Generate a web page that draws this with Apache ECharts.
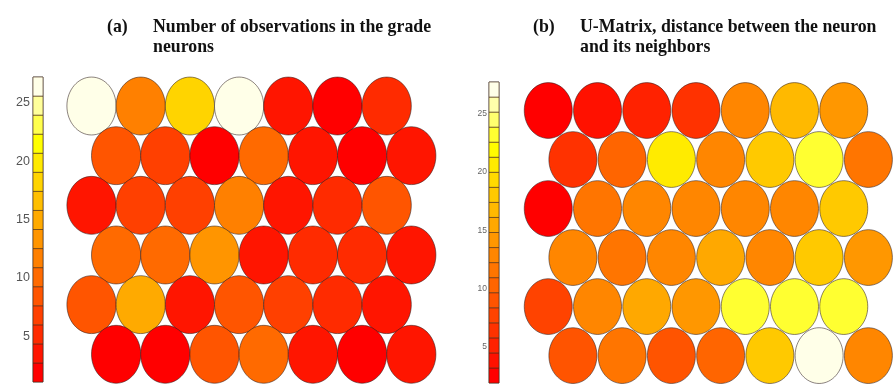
<!DOCTYPE html>
<html>
<head>
<meta charset="utf-8">
<script src="https://cdn.jsdelivr.net/npm/echarts@6/dist/echarts.min.js"></script>
<style>
  html, body { margin: 0; padding: 0; background: #fff; }
  #chart { width: 893px; height: 385px; }
</style>
</head>
<body>
<div id="chart"></div>
<script>
// Number of observations mapped to each neuron of the 7 x 6 hexagonal map (top row first)
const hitCounts = [
  [27, 12, 18, 26, 4, 2, 5],
  [8, 7, 2, 10, 4, 2, 4],
  [4, 7, 7, 12, 3, 5, 8],
  [10, 10, 14, 3, 5, 5, 3],
  [8, 15, 4, 9, 7, 5, 4],
  [2, 2, 8, 10, 4, 2, 4]
];

// U-matrix: mean distance between each neuron and its neighbours (top row first)
const uMatrix = [
  [2.5, 3.8, 5.1, 6.4, 12.3, 16.9, 14.2],
  [6.4, 10.3, 20.6, 12.9, 18.0, 23.2, 11.0],
  [2.5, 11.6, 12.3, 12.3, 12.9, 12.9, 18.0],
  [12.3, 11.0, 12.3, 15.5, 12.9, 18.0, 13.6],
  [7.7, 12.3, 15.5, 14.2, 23.4, 23.0, 23.2],
  [9.0, 11.6, 9.0, 10.3, 18.0, 27.1, 12.3]
];

// Colour bar scales and their tick labels
const hitRange = [1.1, 27.2];
const hitLevelCount = 16;
const uRange = [1.9, 27.7];
const uLevelCount = 20;
const colorbarTicks = [5, 10, 15, 20, 25];

const HEX_DY = Math.sqrt(3) / 2;

// red -> yellow -> pale cream colour map, sampled into n flat levels
function levelColor(i, n) {
  const f = n > 1 ? i / (n - 1) : 0;
  if (f <= 0.8) {
    const g = Math.round(f / 0.8 * 255);
    return 'rgb(255,' + g + ',0)';
  }
  const b = Math.round((f - 0.8) / 0.2 * 232);
  return 'rgb(255,255,' + b + ')';
}

function buildPieces(range, n) {
  const w = (range[1] - range[0]) / n;
  const pieces = [];
  for (let i = 0; i < n; i++) {
    const p = { gte: range[0] + i * w, color: levelColor(i, n) };
    if (i < n - 1) p.lt = range[0] + (i + 1) * w; else p.lte = range[1] + 100;
    if (i === 0) p.gte = range[0] - 100;
    pieces.push(p);
  }
  return pieces;
}

function buildBands(range, n) {
  const w = (range[1] - range[0]) / n;
  const bands = [];
  for (let i = 0; i < n; i++) {
    const lo = range[0] + i * w, hi = lo + w;
    bands.push([lo, hi, (lo + hi) / 2]);
  }
  return bands;
}

// hexagonal layout: odd rows shifted half a cell to the right
function hexCells(rows) {
  const out = [];
  rows.forEach((row, r) => row.forEach((v, c) => {
    out.push([c + (r % 2 ? 0.5 : 0), r * HEX_DY, v]);
  }));
  return out;
}

function hexRenderer(kx, ky) {
  return function (params, api) {
    const c = api.coord([api.value(0), api.value(1)]);
    const s = api.size([1, 1]);
    return {
      type: 'ellipse',
      shape: { cx: c[0], cy: c[1], rx: s[0] / 2 * kx, ry: s[1] / 2 * ky },
      style: { fill: api.visual('color'), stroke: 'rgba(45,30,30,0.55)', lineWidth: 1 }
    };
  };
}

function bandRenderer(params, api) {
  const cs = params.coordSys;
  const yTop = api.coord([0, api.value(1)])[1];
  const yBot = api.coord([0, api.value(0)])[1];
  return {
    type: 'rect',
    shape: { x: cs.x, y: yTop, width: cs.width, height: yBot - yTop },
    style: { fill: api.visual('color'), stroke: 'rgba(70,40,20,0.75)', lineWidth: 0.8 }
  };
}

const titleFont = { fontFamily: 'Liberation Serif', fontWeight: 'bold', fontSize: 17.8, color: '#111', lineHeight: 20.5 };
const hexRowMax = 5 * HEX_DY + 0.5;

const chart = echarts.init(document.getElementById('chart'), null, { renderer: 'canvas' });
chart.setOption({
  backgroundColor: '#fff',
  animation: false,
  title: [
    { text: '(a)', left: 107, top: 17, padding: 0, textStyle: titleFont },
    { text: 'Number of observations in the grade\nneurons', left: 153, top: 17, padding: 0, textStyle: titleFont },
    { text: '(b)', left: 533, top: 17, padding: 0, textStyle: titleFont },
    { text: 'U-Matrix, distance between the neuron\nand its neighbors', left: 580, top: 17, padding: 0, textStyle: titleFont }
  ],
  grid: [
    { left: 66.9, top: 77.35, width: 369, height: 305.6 },
    { left: 33, top: 77, width: 10, height: 305, show: true, borderColor: '#808080', borderWidth: 1, backgroundColor: 'transparent' },
    { left: 523.65, top: 82.2, width: 377.25, height: 301.7 },
    { left: 489, top: 82, width: 10, height: 301, show: true, borderColor: '#808080', borderWidth: 1, backgroundColor: 'transparent' }
  ],
  xAxis: [
    { gridIndex: 0, type: 'value', min: -0.5, max: 7, show: false },
    { gridIndex: 1, type: 'value', min: -1, max: 1, show: false },
    { gridIndex: 2, type: 'value', min: -0.5, max: 7, show: false },
    { gridIndex: 3, type: 'value', min: -1, max: 1, show: false }
  ],
  yAxis: [
    { gridIndex: 0, type: 'value', min: -0.5, max: hexRowMax, inverse: true, show: false },
    {
      gridIndex: 1, type: 'value', min: hitRange[0], max: hitRange[1],
      axisLine: { show: false }, axisTick: { show: false }, splitLine: { show: false },
      axisLabel: { customValues: colorbarTicks, margin: 3, color: '#555', fontFamily: 'Liberation Sans', fontSize: 12.5 }
    },
    { gridIndex: 2, type: 'value', min: -0.5, max: hexRowMax, inverse: true, show: false },
    {
      gridIndex: 3, type: 'value', min: uRange[0], max: uRange[1],
      axisLine: { show: false }, axisTick: { show: false }, splitLine: { show: false },
      axisLabel: { customValues: colorbarTicks, margin: 2, color: '#666', fontFamily: 'Liberation Sans', fontSize: 8.5 }
    }
  ],
  visualMap: [
    { type: 'piecewise', show: false, seriesIndex: [0, 1], dimension: 2, pieces: buildPieces(hitRange, hitLevelCount) },
    { type: 'piecewise', show: false, seriesIndex: [2, 3], dimension: 2, pieces: buildPieces(uRange, uLevelCount) }
  ],
  series: [
    { type: 'custom', xAxisIndex: 0, yAxisIndex: 0, renderItem: hexRenderer(1.0, 1.01), data: hexCells(hitCounts), silent: true },
    { type: 'custom', xAxisIndex: 1, yAxisIndex: 1, renderItem: bandRenderer, data: buildBands(hitRange, hitLevelCount), silent: true },
    { type: 'custom', xAxisIndex: 2, yAxisIndex: 2, renderItem: hexRenderer(0.975, 0.985), data: hexCells(uMatrix), silent: true },
    { type: 'custom', xAxisIndex: 3, yAxisIndex: 3, renderItem: bandRenderer, data: buildBands(uRange, uLevelCount), silent: true }
  ]
});
</script>
</body>
</html>
